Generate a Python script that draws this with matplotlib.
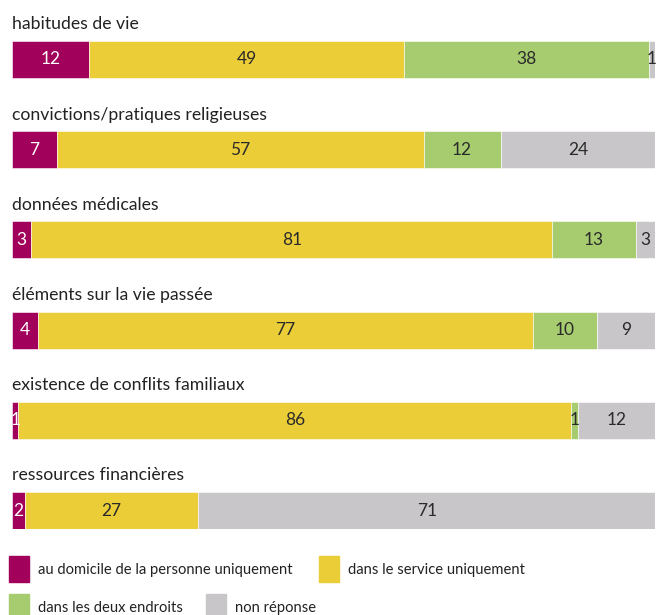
import matplotlib
matplotlib.use('Agg')
import matplotlib.pyplot as plt
from matplotlib.patches import Rectangle

plt.rcParams['font.family'] = ['Lato', 'DejaVu Sans']

categories = ['habitudes de vie',
              'convictions/pratiques religieuses',
              'données médicales',
              'éléments sur la vie passée',
              'existence de conflits familiaux',
              'ressources financières']
series_names = ['au domicile de la personne uniquement',
                'dans le service uniquement',
                'dans les deux endroits',
                'non réponse']
domicile = [12, 7, 3, 4, 1, 2]
service = [49, 57, 81, 77, 86, 27]
deux = [38, 12, 13, 10, 1, 0]
non_rep = [1, 24, 3, 9, 12, 71]
colors = ['#A1005B', '#EBCD38', '#A6CC6F', '#C8C6C8']
text_colors = ['white', '#2a2a2a', '#2a2a2a', '#2a2a2a']

W, H = 657, 615
fig = plt.figure(figsize=(W / 100, H / 100), dpi=100)

# bars axes: x 12..655 px, y 41..529 px
ax = fig.add_axes([12 / W, 1 - 529 / H, 643 / W, 488 / H])
ax.set_xlim(0, 100)
bar_h = 0.41
ax.set_ylim(len(categories) - 1 + 0.205, -0.205)
ax.axis('off')

series = [domicile, service, deux, non_rep]
for i, cat in enumerate(categories):
    left = 0
    for s, vals in enumerate(series):
        v = vals[i]
        if v == 0:
            continue
        ax.barh(i, v, left=left, height=bar_h, color=colors[s],
                edgecolor='white', linewidth=0.4)
        ax.text(left + v / 2, i, str(v), ha='center', va='center',
                fontsize=12.5, color=text_colors[s])
        left += v
    ax.text(0, i - 0.39, cat, ha='left', va='center', fontsize=12.7,
            color='#222222', clip_on=False)

# legend, laid out by hand
leg_pos = [(9, 556), (319, 556), (9, 594), (206, 594)]
for (x, y), name, c in zip(leg_pos, series_names, colors):
    fig.patches.append(Rectangle((x / W, 1 - (y + 26) / H), 20 / W, 26 / H,
                                 transform=fig.transFigure, color=c))
    fig.text((x + 29) / W, 1 - (y + 14) / H, name, ha='left', va='center',
             fontsize=10.6, color='#222222')

fig.savefig('out.png', dpi=100)
